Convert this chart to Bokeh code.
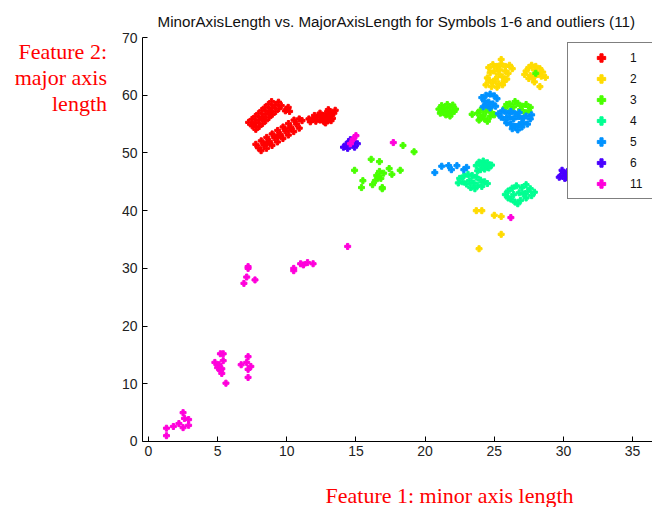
from bokeh.plotting import figure
from bokeh.models import Range1d, Label, Legend, LegendItem, FixedTicker
from bokeh.embed import file_html
from bokeh.resources import INLINE

# ---- data (minor axis length, major axis length) ----
x1 = [7.5, 7.76, 7.24, 7.74, 8.0, 7.48, 7.98, 8.24, 7.72, 8.21, 8.47, 7.95, 8.45, 8.71, 8.19, 8.69, 8.95, 8.43,
      8.93, 9.19, 8.67, 9.16, 9.42, 8.9, 9.4, 9.6, 9.9, 10.1, 10.0, 10.2, 7.6, 8.3, 8.8,
      7.95, 8.14, 7.76, 8.34, 8.53, 8.15, 8.74, 8.93, 8.55, 9.13, 9.32, 8.94, 9.53, 9.72, 9.34, 9.92, 10.11, 9.73,
      10.31, 10.5, 10.12, 10.71, 10.9, 10.52, 11.1, 10.9, 8.6, 9.4, 10.2,
      11.7, 11.9, 12.1, 12.2, 12.4, 12.5, 12.6, 12.7, 12.8, 12.9, 13.0, 13.1, 13.2, 13.3, 13.4, 13.5, 12.4, 12.0, 13.0, 13.2, 11.6, 12.8]
y1 = [54.7, 54.1, 55.3, 55.2, 54.6, 55.8, 55.7, 55.1, 56.3, 56.2, 55.6, 56.8, 56.75, 56.15, 57.35, 57.3, 56.7, 57.9,
      57.8, 57.2, 58.4, 58.3, 57.7, 58.9, 58.8, 58.2, 57.3, 57.9, 57.6, 57.2, 54.9, 55.9, 57.0,
      50.9, 50.4, 51.5, 51.4, 50.8, 52.1, 52.0, 51.3, 52.7, 52.6, 51.9, 53.3, 53.2, 52.5, 53.9, 53.8, 53.1, 54.5,
      54.4, 53.7, 55.1, 55.0, 54.3, 55.7, 55.6, 55.9, 51.8, 53.0, 54.2,
      55.4, 55.9, 55.5, 56.2, 55.7, 56.5, 56.0, 55.4, 56.8, 56.2, 55.7, 57.2, 56.5, 56.0, 56.9, 57.4, 56.9, 56.5, 57.5, 55.6, 55.9, 55.2]

x2 = [25.5, 24.6, 24.9, 25.2, 25.5, 25.8, 26.1, 26.3, 25.0, 25.4, 25.8, 26.0, 24.7, 25.3, 25.6, 25.1, 24.6, 24.9, 25.3, 25.7, 24.4, 24.8, 25.2, 25.6, 24.5, 25.9,
      27.3, 27.5, 27.7, 28.0, 27.9, 28.3, 28.5, 27.2, 27.6, 28.1, 28.4, 27.8, 27.5, 28.7, 28.3, 27.9,
      23.7, 24.1, 25.0, 25.5, 25.5, 23.9]
y2 = [66.2, 64.8, 65.3, 65.0, 65.4, 65.0, 65.2, 64.6, 64.2, 64.4, 64.2, 63.8, 63.9, 63.6, 63.2, 62.8, 62.6, 62.2, 62.0, 62.4, 61.8, 61.5, 61.4, 61.8, 63.0, 62.8,
      64.2, 64.8, 65.2, 65.0, 64.4, 64.6, 64.0, 63.6, 63.4, 63.6, 63.3, 63.0, 62.9, 63.1, 61.5, 62.3,
      40.0, 40.0, 39.2, 39.0, 35.9, 33.4]

x3 = [21.0, 21.2, 21.4, 21.6, 21.8, 22.0, 22.2, 21.3, 21.6, 21.9, 21.5, 21.8, 21.1, 22.1,
      23.4, 23.8, 24.0, 24.2, 24.4, 24.6, 24.8, 24.3, 24.0, 24.7, 25.0, 24.5, 23.9,
      25.8, 26.1, 26.4, 26.7, 27.0, 27.3, 27.6, 26.2, 26.9, 27.2, 25.9, 26.5, 27.5,
      28.0,
      18.4, 19.2, 16.1, 16.7, 14.9, 17.4, 18.2, 17.6, 16.7, 16.5, 16.4, 15.5, 16.2, 16.9, 15.4, 16.8, 16.6, 17.0, 16.9]
y3 = [57.6, 58.2, 57.8, 58.4, 57.9, 58.3, 57.6, 57.1, 57.3, 57.0, 56.6, 56.4, 56.9, 57.2,
      56.7, 56.9, 57.4, 56.5, 57.2, 57.8, 57.0, 55.9, 56.1, 56.3, 56.6, 55.5, 55.7,
      57.9, 58.5, 58.0, 58.6, 58.1, 58.4, 57.9, 57.4, 57.5, 57.0, 58.4, 58.9, 57.3,
      63.8,
      51.3, 50.2, 48.9, 48.5, 47.0, 47.3, 47.0, 46.3, 46.8, 46.1, 45.2, 45.2, 44.5, 44.0, 44.0, 45.6, 45.8, 46.5, 43.8]

x4 = [23.7, 23.9, 24.2, 24.5, 24.8, 24.6, 24.3, 24.0, 23.8, 24.4, 24.1,
      22.5, 22.8, 23.1, 23.4, 23.7, 24.0, 24.3, 24.5, 23.2, 23.5, 23.8, 23.3, 23.0, 22.7, 24.1, 23.6, 22.4,
      25.8, 26.0, 26.3, 26.6, 27.0, 27.3, 27.6, 27.9, 27.7, 27.3, 26.9, 26.5, 26.2, 26.4, 26.8, 27.1, 26.7, 26.0, 27.4]
y4 = [47.8, 48.4, 48.6, 48.3, 47.9, 47.4, 47.2, 47.1, 46.9, 47.8, 47.9,
      45.6, 46.0, 46.3, 46.1, 45.8, 45.3, 45.0, 44.7, 45.2, 44.8, 44.4, 44.0, 44.6, 45.0, 44.2, 43.8, 44.8,
      42.8, 43.4, 43.9, 44.3, 44.0, 44.5, 43.8, 43.2, 42.6, 42.2, 41.8, 41.5, 42.0, 42.8, 43.1, 42.9, 41.2, 42.2, 43.3]

x5 = [24.1, 24.4, 24.7, 25.0, 25.2, 24.3, 24.6, 24.9, 25.1, 24.7, 24.4, 24.2,
      25.3, 25.6, 25.9, 26.2, 26.5, 26.8, 25.5, 25.8, 26.1, 26.4, 26.7, 27.0, 27.3, 27.6, 25.9, 26.2, 26.5, 26.8, 27.1, 27.4, 26.3, 26.7, 27.0, 27.7,
      20.7, 21.2, 21.7, 21.9, 22.3, 22.8, 23.0]
y5 = [59.6, 60.0, 60.2, 59.9, 59.4, 59.0, 58.8, 58.5, 58.1, 57.8, 58.3, 58.0,
      56.8, 57.3, 56.9, 57.2, 56.8, 57.0, 56.2, 55.8, 56.2, 55.9, 56.3, 56.0, 56.4, 55.9, 55.2, 55.0, 54.6, 54.9, 55.3, 55.0, 54.2, 54.0, 54.5, 56.6,
      46.6, 47.7, 47.8, 47.1, 47.8, 47.1, 47.5]

x6 = [14.1, 14.3, 14.5, 14.7, 14.9, 15.1, 14.6, 14.4, 14.8,
      29.8, 30.0, 30.2, 30.1, 29.9, 30.3, 30.4, 29.7]
y6 = [51.0, 51.5, 51.9, 51.4, 51.0, 51.6, 52.3, 50.8, 52.0,
      46.0, 46.6, 46.2, 45.6, 47.0, 46.8, 45.4, 45.8]

x11 = [15.0, 14.8, 14.6, 17.7, 26.2, 14.4, 10.5, 10.5, 11.0, 11.2, 11.5, 11.9,
       7.2, 7.2, 7.1, 6.9, 7.7,
       5.2, 5.4, 4.8, 5.4, 5.0, 5.2, 5.3, 5.6, 5.1, 5.3,
       7.2, 6.7, 7.1, 7.4, 7.2, 7.2,
       1.3, 1.3, 1.8, 2.2, 2.5, 2.6, 2.9, 2.9, 2.5]
y11 = [53.0, 52.4, 51.6, 51.8, 38.8, 33.8, 30.0, 29.6, 30.8, 30.6, 31.0, 30.8,
       30.3, 30.0, 28.5, 27.4, 28.0,
       15.2, 15.2, 13.7, 14.0, 12.8, 12.3, 11.8, 10.1, 13.3, 12.6,
       14.7, 13.3, 13.7, 13.0, 12.5, 11.1,
       2.3, 1.0, 2.6, 3.1, 5.0, 4.0, 3.8, 2.8, 2.4]

series_names = ["1", "2", "3", "4", "5", "6", "11"]
series_x = [x1, x2, x3, x4, x5, x6, x11]
series_y = [y1, y2, y3, y4, y5, y6, y11]
colors = ["#FF0000", "#FFDB00", "#49FF00", "#00FF92", "#0092FF", "#4900FF", "#FF00DB"]

x_ticks = [0, 5, 10, 15, 20, 25, 30, 35]
y_ticks = [0, 10, 20, 30, 40, 50, 60, 70]
x_bounds = (-0.43, 36.44)
y_bounds = (0, 70)

title_text = "MinorAxisLength vs. MajorAxisLength for Symbols 1-6 and outliers (11)"
xlabel_text = "Feature 1: minor axis length"
ylabel_lines = ["Feature 2:", "major axis", "length"]

# ---- figure: frame spans whole canvas, axes pinned with fixed_location ----
p = figure(width=652, height=507, output_backend="svg", toolbar_location=None,
           x_range=Range1d(-10.70, 36.44), y_range=Range1d(-11.44, 76.42),
           min_border=0)
p.outline_line_color = None
p.grid.visible = False
p.background_fill_color = "white"
p.border_fill_color = "white"

p.xaxis.fixed_location = y_bounds[0]
p.xaxis.bounds = x_bounds
p.yaxis.fixed_location = x_bounds[0]
p.yaxis.bounds = y_bounds

for ax, ticks in ((p.xaxis, x_ticks), (p.yaxis, y_ticks)):
    ax.ticker = FixedTicker(ticks=ticks)
    ax.major_tick_in = 5
    ax.major_tick_out = 0
    ax.minor_tick_line_color = None
    ax.axis_line_color = "black"
    ax.major_tick_line_color = "black"
    ax.major_label_text_font = "Liberation Sans"
    ax.major_label_text_font_size = "14px"
    ax.major_label_text_color = "#222222"
    ax.major_label_standoff = 5

items = []
for name, xs, ys, c in zip(series_names, series_x, series_y, colors):
    r = p.scatter(xs, ys, marker="plus", size=6, fill_color=c, line_color=c, line_width=1)
    items.append(LegendItem(label=name, renderers=[r]))

legend = Legend(items=items, location=(567, 308), padding=4, spacing=0,
                glyph_width=58, glyph_height=21, label_height=21, label_width=18,
                label_standoff=0, label_text_font="Liberation Sans", label_text_font_size="12px",
                label_text_color="#111111", border_line_color="black", border_line_width=1,
                background_fill_color="white", background_fill_alpha=1.0, margin=0)
p.add_layout(legend, "center")

# title (left-anchored)
p.add_layout(Label(x=0.65, y=72.8, text=title_text, text_align="left", text_baseline="middle",
                   text_font="Liberation Sans", text_font_size="15.2px", text_color="#111111"))
# red axis annotations
p.add_layout(Label(x=12.8, y=-9.36, text=xlabel_text, text_align="left", text_baseline="middle",
                   text_font="Liberation Serif", text_font_size="22px", text_color="#FF0000"))
for i, line in enumerate(ylabel_lines):
    p.add_layout(Label(x=-3.0, y=67.5 - i * 4.5, text=line, text_align="right", text_baseline="middle",
                       text_font="Liberation Serif", text_font_size="22px", text_color="#FF0000"))

open("out.html", "w").write(file_html(p, INLINE))
